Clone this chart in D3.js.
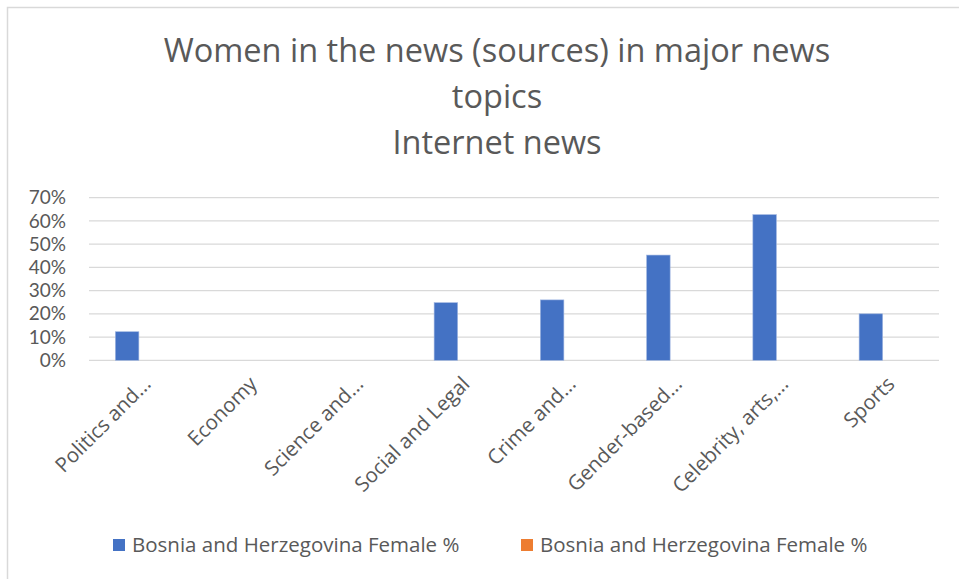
<!DOCTYPE html>
<html>
<head>
<meta charset="utf-8">
<script src="https://cdn.jsdelivr.net/npm/d3@7/dist/d3.min.js"></script>
<style>
  html, body { margin: 0; padding: 0; background: #fff; }
  svg { display: block; }
  text { font-family: "Open Sans", "Noto Sans", sans-serif; fill: #595959; }
</style>
</head>
<body>
<svg id="chart" width="959" height="579"></svg>
<script>
// Topics shown on the x axis (labels are truncated as in the source sheet)
const categories = [
  "Politics and...", "Economy", "Science and...", "Social and Legal",
  "Crime and...", "Gender-based...", "Celebrity, arts,...", "Sports"
];
// Share of female sources per topic (fraction), two series with the same name
const seriesNames = ["Bosnia and Herzegovina Female %", "Bosnia and Herzegovina Female %"];
const seriesA = [0.123, null, null, 0.248, 0.260, 0.453, 0.627, 0.200];
const seriesB = [null, null, null, null, null, null, null, null];
const seriesColors = ["#4472C4", "#ED7D31"];
const yTicks = [0, 0.1, 0.2, 0.3, 0.4, 0.5, 0.6, 0.7];
const titleLines = ["Women in the news (sources) in major news", "topics", "Internet news"];

const svg = d3.select("#chart");
const W = 959, H = 579;

// chart frame
svg.append("rect")
  .attr("x", 7.5).attr("y", 7.5)
  .attr("width", W + 10).attr("height", H + 10)
  .attr("fill", "#fff").attr("stroke", "#d9d9d9").attr("stroke-width", 1.5);

const plot = { left: 89, right: 939, top: 197.7, bottom: 360.3 };

const x0 = d3.scaleBand().domain(categories).range([plot.left, plot.right]).padding(0);
const seriesKeys = [0, 1];
const x1 = d3.scaleBand().domain(seriesKeys).range([-26.75, 26.75]).paddingInner(0.217).paddingOuter(0);
const y = d3.scaleLinear().domain([0, 0.7]).range([plot.bottom, plot.top]);

// gridlines
svg.append("g")
  .selectAll("line").data(yTicks).join("line")
  .attr("x1", plot.left).attr("x2", plot.right)
  .attr("y1", d => y(d)).attr("y2", d => y(d))
  .attr("stroke", "#d9d9d9").attr("stroke-width", 1.3);

// y axis labels
const yAxis = d3.axisLeft(y).tickValues(yTicks).tickFormat(d3.format(".0%")).tickSize(0).tickPadding(0);
const gy = svg.append("g").attr("transform", `translate(66,0)`).call(yAxis);
gy.select(".domain").remove();
gy.selectAll("text").style("font-size", "19px").attr("fill", "#595959")
  .style("font-family", "Lato, 'Open Sans', sans-serif");

// bars
const allSeries = [seriesA, seriesB];
const groups = svg.append("g").selectAll("g").data(categories).join("g")
  .attr("transform", d => `translate(${x0(d) + x0.bandwidth() / 2},0)`);
groups.selectAll("rect")
  .data((d, i) => seriesKeys.map(k => ({ k, v: allSeries[k][i] })).filter(e => e.v != null))
  .join("rect")
  .attr("x", e => x1(e.k))
  .attr("width", x1.bandwidth())
  .attr("y", e => y(e.v))
  .attr("height", e => y(0) - y(e.v))
  .attr("fill", e => seriesColors[e.k])
  .attr("stroke", "#9db4e0").attr("stroke-width", 0.6);

// x axis labels, rotated
const xAxis = d3.axisBottom(x0).tickSize(0).tickPadding(0);
const gx = svg.append("g").attr("transform", `translate(0,${plot.bottom})`).call(xAxis);
gx.select(".domain").remove();
gx.selectAll(".tick text")
  .style("font-size", "20.5px")
  .style("font-family", "'Open Sans', sans-serif")
  .attr("fill", "#595959")
  .attr("text-anchor", "end")
  .attr("dy", null)
  .attr("transform", "translate(10,25) rotate(-45)");

// title
const title = svg.append("text")
  .attr("text-anchor", "middle")
  .style("font-size", "32.5px");
titleLines.forEach((t, i) => {
  title.append("tspan").attr("x", 497).attr("y", 62 + i * 46).text(t);
});

// legend
const legendX = [113, 521];
const lg = svg.append("g").selectAll("g").data(seriesKeys).join("g")
  .attr("transform", k => `translate(${legendX[k]},545)`);
lg.append("rect").attr("x", 0).attr("y", -6).attr("width", 12).attr("height", 12)
  .attr("fill", k => seriesColors[k]);
lg.append("text").attr("x", 19).attr("y", 0).attr("dy", "0.35em")
  .style("font-size", "20.5px").text(k => seriesNames[k]);
</script>
</body>
</html>
